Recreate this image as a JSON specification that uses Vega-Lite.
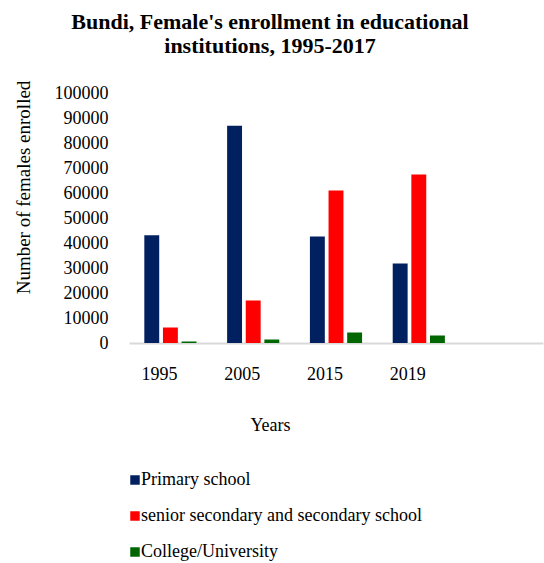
{
  "$schema": "https://vega.github.io/schema/vega-lite/v6.json",
  "width": 414,
  "height": 250,
  "autosize": {"type": "none"},
  "padding": {"left": 129, "top": 93, "right": 1, "bottom": 220},
  "background": "white",
  "title": {
    "text": ["Bundi, Female's enrollment in educational", "institutions, 1995-2017"],
    "font": "Liberation Serif",
    "fontSize": 22,
    "fontWeight": "bold",
    "color": "#000000",
    "anchor": "middle",
    "frame": "group",
    "dx": -66,
    "offset": 22,
    "lineHeight": 24
  },
  "data": {
    "values": [
      {"year": "1995", "level": "Primary school", "enrolled": 43100},
      {"year": "1995", "level": "senior secondary and secondary school", "enrolled": 6200},
      {"year": "1995", "level": "College/University", "enrolled": 600},
      {"year": "2005", "level": "Primary school", "enrolled": 86900},
      {"year": "2005", "level": "senior secondary and secondary school", "enrolled": 17000},
      {"year": "2005", "level": "College/University", "enrolled": 1400},
      {"year": "2015", "level": "Primary school", "enrolled": 42600},
      {"year": "2015", "level": "senior secondary and secondary school", "enrolled": 61000},
      {"year": "2015", "level": "College/University", "enrolled": 4200},
      {"year": "2019", "level": "Primary school", "enrolled": 31800},
      {"year": "2019", "level": "senior secondary and secondary school", "enrolled": 67400},
      {"year": "2019", "level": "College/University", "enrolled": 3000}
    ]
  },
  "mark": {"type": "bar"},
  "encoding": {
    "x": {
      "field": "year",
      "type": "nominal",
      "scale": {"domain": ["1995", "2005", "2015", "2019", " "], "paddingInner": 0.37, "paddingOuter": 0.185},
      "axis": {
        "title": "Years",
        "labelAngle": 0,
        "labelFont": "Liberation Serif",
        "labelFontSize": 18,
        "labelColor": "#000000",
        "labelPadding": 22,
        "labelOffset": -11,
        "ticks": false,
        "domainColor": "#d9d9d9",
        "domainWidth": 2,
        "titleFont": "Liberation Serif",
        "titleFontSize": 18,
        "titleFontWeight": "normal",
        "titleColor": "#000000",
        "titlePadding": 33,
        "titleX": 141,
        "titleAnchor": null,
        "titleAlign": "center",
        "grid": false
      }
    },
    "xOffset": {
      "field": "level",
      "type": "nominal",
      "scale": {"domain": ["Primary school", "senior secondary and secondary school", "College/University"], "paddingInner": 0.2, "paddingOuter": 0}
    },
    "y": {
      "field": "enrolled",
      "type": "quantitative",
      "scale": {"domain": [0, 100000], "nice": false},
      "axis": {
        "title": "Number of females enrolled",
        "values": [0, 10000, 20000, 30000, 40000, 50000, 60000, 70000, 80000, 90000, 100000],
        "format": "d",
        "labelFont": "Liberation Serif",
        "labelFontSize": 18,
        "labelColor": "#000000",
        "labelPadding": 21,
        "ticks": false,
        "domain": false,
        "grid": false,
        "titleFont": "Liberation Serif",
        "titleFontSize": 19,
        "titleFontWeight": "normal",
        "titleColor": "#000000",
        "titleAngle": -90,
        "titleX": -106,
        "titleY": 94,
        "titleAlign": "center",
        "titleBaseline": "middle"
      }
    },
    "color": {
      "field": "level",
      "type": "nominal",
      "scale": {
        "domain": ["Primary school", "senior secondary and secondary school", "College/University"],
        "range": ["#002060", "#ff0000", "#006600"]
      },
      "legend": {
        "title": null,
        "orient": "none",
        "direction": "vertical",
        "legendX": -3,
        "legendY": 378,
        "symbolType": "square",
        "symbolSize": 90,
        "symbolStrokeWidth": 0,
        "labelFont": "Liberation Serif",
        "labelFontSize": 18,
        "labelColor": "#000000",
        "labelOffset": -3,
        "labelLimit": 0,
        "rowPadding": 18
      }
    }
  },
  "config": {"view": {"stroke": null}}
}
